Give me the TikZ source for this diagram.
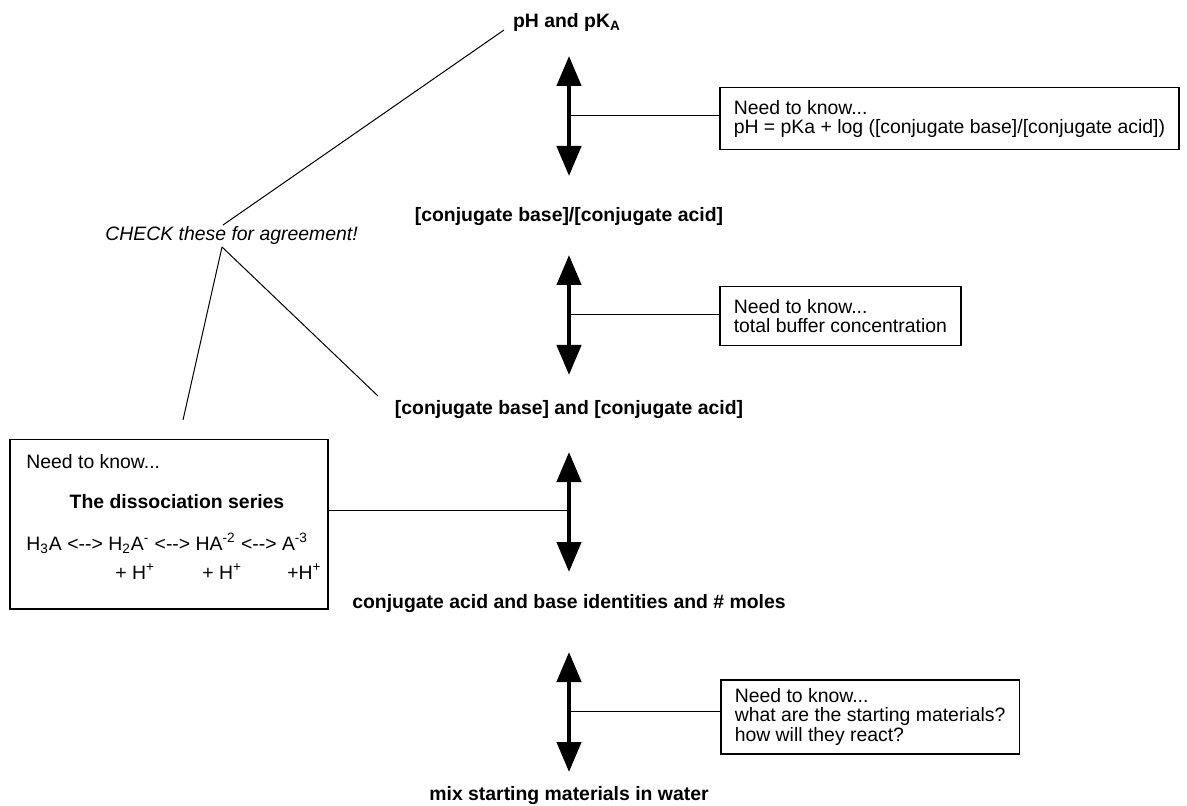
\documentclass[tikz,border=0pt]{standalone}
\usepackage{fontspec}
\setmainfont{Liberation Sans}
\usetikzlibrary{arrows.meta}
\begin{document}
\begin{tikzpicture}[x=0.5pt,y=-0.5pt,
        every node/.style={font=\fontsize{9.7}{9.75}\selectfont, inner sep=0pt},
        stage/.style={font=\fontsize{9.7}{9.75}\selectfont\bfseries, anchor=base},
        needbox/.style={draw, line width=0.75pt, anchor=north west, align=left, inner xsep=7pt},
        twoway/.style={{Triangle[length=15pt,width=12pt]}-{Triangle[length=15pt,width=12pt]}, line width=2.2pt},
        thinline/.style={line width=0.5pt}]
    \useasboundingbox (0,0) rectangle (1187,806);
    % steps, top to bottom
    \node[stage] (ph) at (567,28) {pH and pK\textsubscript{A}};
    \node[stage] (ratio) at (569,222) {[conjugate base]/[conjugate acid]};
    \node[stage] (conc) at (569,415) {[conjugate base] and [conjugate acid]};
    \node[stage] (moles) at (569,608) {conjugate acid and base identities and \# moles};
    \node[stage] (mix) at (569,800) {mix starting materials in water};
    % arrows between the steps
    \coordinate (a1t) at (569,56);  \coordinate (a1b) at (569,176);  \coordinate (a1m) at (569,116);
    \coordinate (a2t) at (569,255); \coordinate (a2b) at (569,375); \coordinate (a2m) at (569,315);
    \coordinate (a3t) at (569,452); \coordinate (a3b) at (569,572); \coordinate (a3m) at (569,510);
    \coordinate (a4t) at (569,652); \coordinate (a4b) at (569,772); \coordinate (a4m) at (569,711);
    \draw[twoway] (a1t) -- (a1b);
    \draw[twoway] (a2t) -- (a2b);
    \draw[twoway] (a3t) -- (a3b);
    \draw[twoway] (a4t) -- (a4b);
    % need to know boxes
    \node[needbox, minimum height=31pt] (k1) at (719,87) {Need to know...\\pH = pKa + log ([conjugate base]/[conjugate acid])};
    \node[needbox, minimum height=29.5pt] (k2) at (719,286) {Need to know...\\total buffer concentration};
    \node[needbox, minimum height=37pt] (k4) at (720,679) {Need to know...\\what are the starting materials?\\how will they react?};
    \node[draw, line width=0.75pt, anchor=north west, minimum width=159pt, minimum height=84.5pt] (k3) at (9,439) {};
    \node[anchor=base west] (k3a) at (26,468) {Need to know...};
    \node[anchor=base, font=\fontsize{9.7}{9.75}\selectfont\bfseries] (k3b) at (177,508) {The dissociation series};
    \node[anchor=base west] (k3c) at (26,550) {H\textsubscript{3}A <-{}-> H\textsubscript{2}A\textsuperscript{-} <-{}-> HA\textsuperscript{-2} <-{}-> A\textsuperscript{-3}};
    \node[anchor=base west] (hp1) at (115,579) {+ H\textsuperscript{+}};
    \node[anchor=base west] (hp2) at (202,579) {+ H\textsuperscript{+}};
    \node[anchor=base west] (hp3) at (287,579) {+H\textsuperscript{+}};
    \draw[thinline] (a1m) -- (a1m -| k1.west);
    \draw[thinline] (a2m) -- (a2m -| k2.west);
    \draw[thinline] (a3m) -- (a3m -| k3.east);
    \draw[thinline] (a4m) -- (a4m -| k4.west);
    % agreement check
    \node[anchor=base west, font=\fontsize{9.7}{9.75}\selectfont\itshape] (check) at (105,241) {CHECK these for agreement!};
    \coordinate (phfoot) at (504,30);
    \coordinate (chktop) at (223,225);
    \coordinate (chkfoot) at (222,247);
    \coordinate (k3top) at (183,420);
    \coordinate (concfoot) at (378,396);
    \draw[thinline] (phfoot) -- (chktop);
    \draw[thinline] (chkfoot) -- (k3top);
    \draw[thinline] (chkfoot) -- (concfoot);
\end{tikzpicture}
\end{document}
